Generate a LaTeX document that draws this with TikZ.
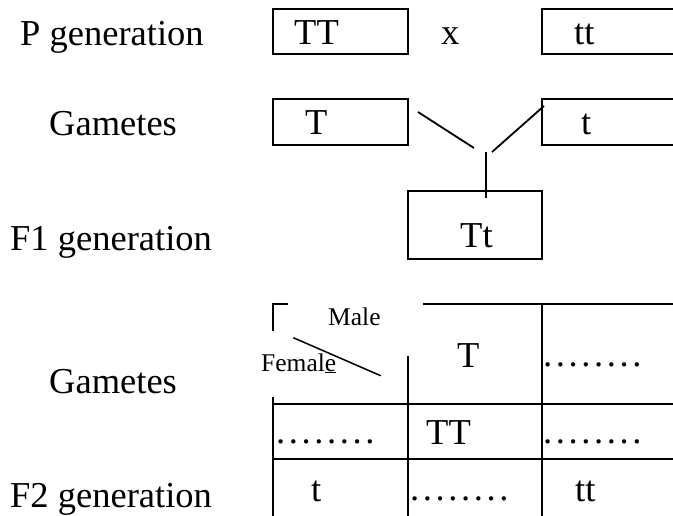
\documentclass[tikz,border=0pt]{standalone}
\usepackage{fontspec}
\setmainfont{Liberation Serif}
\usetikzlibrary{positioning}
\tikzset{
	box/.style={draw,rectangle,line width=1.8pt,inner sep=0pt},
	lbl/.style={inner sep=0pt,anchor=base west,font=\fontsize{36.5}{40}\selectfont},
	small/.style={inner sep=0pt,anchor=base west,font=\fontsize{25.5}{28}\selectfont},
	grid/.style={line width=1.8pt}
}
\newcommand{\dotrow}{.\kern3.6pt.\kern3.6pt.\kern3.6pt.\kern3.6pt.\kern3.6pt.\kern3.6pt.\kern3.6pt.}

\begin{document}
\begin{tikzpicture}[x=1pt,y=-1pt]
	\useasboundingbox (0,0) rectangle (673,515);
	% row labels
	\node[lbl] (pgen) at (20,45) {P generation};
	\node[lbl] (gam1) at (49,135) {Gametes};
	\node[lbl] (f1gen) at (10,250) {F1 generation};
	\node[lbl] (gam2) at (49,393) {Gametes};
	\node[lbl] (f2gen) at (10,507) {F2 generation};

	% parents and gametes
	\node[box,minimum width=135pt,minimum height=45pt] (pTT) at (340.5,31.7) {};
	\node[box,minimum width=140pt,minimum height=45pt] (ptt) at (612,31.7) {};
	\node[box,minimum width=135pt,minimum height=45.7pt] (gT) at (340.5,122.2) {};
	\node[box,minimum width=140pt,minimum height=45.7pt] (gt) at (612,122.2) {};
	\node[box,minimum width=134.5pt,minimum height=68pt] (fTt) at (475,224.7) {};
	\node[lbl] (pTTl) at (294,44) {TT};
	\node[lbl] (cross) at (441,44) {x};
	\node[lbl] (pttl) at (574,44) {tt};
	\node[lbl] (gTl) at (305,134) {T};
	\node[lbl] (gtl) at (581,134) {t};
	\node[lbl] (fTtl) at (460,247) {Tt};

	\coordinate (jl1) at (418,112);
	\coordinate (jl2) at (474,148);
	\coordinate (jr1) at (544,106);
	\coordinate (jr2) at (492,152);
	\coordinate (jv) at (486,152);
	\draw[grid] (jl1) -- (jl2);
	\draw[grid] (jr1) -- (jr2);
	\draw[grid] (jv) -- (jv |- fTt.north) -- ++(0,8);

	% punnett square
	\draw[grid] (273,331) -- (273,304.3) -- (288,304.3);
	\draw[grid] (423,304.3) -- (680,304.3);
	\draw[grid] (273,397) -- (273,520);
	\draw[grid] (408,356) -- (408,520);
	\draw[grid] (542,304.3) -- (542,520);
	\draw[grid] (273,404) -- (680,404);
	\draw[grid] (273,459.3) -- (680,459.3);
	\draw[line width=1.5pt] (293.3,337.7) -- (380.7,375.7);
	\node[small] (male) at (328,325) {Male};
	\node[small] (female) at (261,371) {Femal\underline{e}};

	\node[lbl] (sT) at (457,367) {T};
	\node[lbl] (d13) at (543,366.5) {\dotrow};
	\node[lbl] (d21) at (276,443.5) {\dotrow};
	\node[lbl] (sTT) at (426,444) {TT};
	\node[lbl] (d23) at (543,443.5) {\dotrow};
	\node[lbl] (st) at (311,501) {t};
	\node[lbl] (d32) at (410,500) {\dotrow};
	\node[lbl] (stt) at (575,501) {tt};
\end{tikzpicture}
\end{document}
